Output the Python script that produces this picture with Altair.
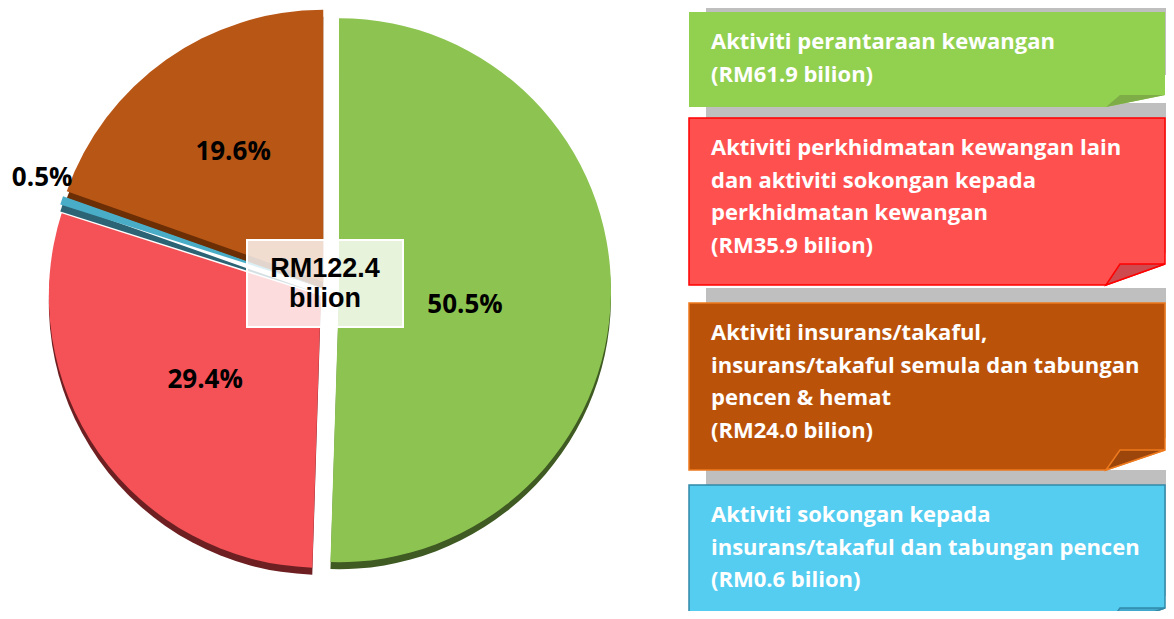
import altair as alt
import pandas as pd

# ------------------------------------------------------------------ data
categories = [
    "Aktiviti perantaraan kewangan",
    "Aktiviti perkhidmatan kewangan lain dan aktiviti sokongan kepada perkhidmatan kewangan",
    "Aktiviti insurans/takaful, insurans/takaful semula dan tabungan pencen & hemat",
    "Aktiviti sokongan kepada insurans/takaful dan tabungan pencen",
]
values_rm = [61.9, 35.9, 24.0, 0.6]          # RM bilion
shares_pct = [50.5, 29.4, 19.6, 0.5]         # % of total
pie_order = [0, 1, 3, 2]                     # clockwise order from 12 o'clock
legend_lines = [
    ["Aktiviti perantaraan kewangan"],
    ["Aktiviti perkhidmatan kewangan lain", "dan aktiviti sokongan kepada", "perkhidmatan kewangan"],
    ["Aktiviti insurans/takaful,", "insurans/takaful semula dan tabungan", "pencen & hemat"],
    ["Aktiviti sokongan kepada", "insurans/takaful dan tabungan pencen"],
]
unit = "bilion"

# ------------------------------------------------------------------ style
OFF = 8
W, H = 1158, 603
def X(px):
    return px - OFF
def Y(py):
    return py - OFF

PIE_TOP = ["#8DC451", "#F45257", "#B85616", "#4AADC8"]
PIE_SIDE = ["#3F5A22", "#6E1F22", "#6B2E05", "#2C6475"]
CX, CY = 321, 282      # pie centre (chart px)
R = 272
EXPL = 10
DEPTH = 7
LABEL_R = [127, 143, 158, 298]      # per category label distance (px)
LABEL_DA = [6.0, -0.7, 0.5, 2.9]    # per category label angle tweak (deg)

BOX_FILL = ["#92D050", "#FF5050", "#BB520A", "#55CDF1"]
BOX_STROKE = ["#92D050", "#FF0000", "#EE7A1E", "#3289A8"]
BOX_SW = [0, 1.5, 1.5, 1.5]
FOLD_FILL = ["#7EAD47", "#CF4A4E", "#9C460B", "#42A8CE"]
BOX_TOP = [12, 118, 303, 485]
BOX_BOT = [107, 285, 470, 628]
CUT_H = [12, 21, 20, 20]
BOX_L, BOX_R = 689, 1165
CUT_X, FOLD_X = 1106, 1120

one = pd.DataFrame({"a": [0]})

# ------------------------------------------------------------------ pie
pie_df = pd.DataFrame({
    "cat": categories,
    "idx": list(range(len(categories))),
    "share": shares_pct,
    "ord": pie_order,
})
total_share = sum(shares_pct)
lr_expr = "[" + ",".join(str(v) for v in LABEL_R) + "][datum.idx]"
la_expr = "[" + ",".join(str(v) for v in LABEL_DA) + "][datum.idx] * PI / 180"

pie_base = (
    alt.Chart(pie_df)
    .transform_joinaggregate(total="sum(share)")
    .transform_window(cum="sum(share)", sort=[alt.SortField("ord", order="ascending")], frame=[None, 0])
    .transform_calculate(
        v0="datum.cum - datum.share",
        mid="(datum.cum - datum.share / 2) / datum.total * 2 * PI",
        cx=f"{CX} + {EXPL} * sin(datum.mid)",
        cy=f"{CY} - {EXPL} * cos(datum.mid)",
        cyd=f"datum.cy + {DEPTH}",
        la=f"datum.mid + {la_expr}",
        lx=f"datum.cx + {lr_expr} * sin(datum.la)",
        ly=f"datum.cy - {lr_expr} * cos(datum.la)",
        lab="format(datum.share, '.1f') + '%'",
    )
)

theta = alt.Theta("v0:Q", scale=alt.Scale(domain=[0, total_share]))
theta2 = alt.Theta2("cum:Q")

pie_side = pie_base.mark_arc(radius=R, stroke=None).encode(
    theta=theta, theta2=theta2,
    x=alt.X("cx:Q", scale=None), y=alt.Y("cyd:Q", scale=None),
    color=alt.Color("cat:N", scale=alt.Scale(domain=categories, range=PIE_SIDE), legend=None),
)
pie_top = pie_base.mark_arc(radius=R, stroke=None).encode(
    theta=theta, theta2=theta2,
    x=alt.X("cx:Q", scale=None), y=alt.Y("cy:Q", scale=None),
    fill=alt.Fill("cat:N", scale=alt.Scale(domain=categories, range=PIE_TOP), legend=None),
)
pie_labels = pie_base.mark_text(
    font="Open Sans", fontWeight="bold", fontSize=26, color="black",
    align="center", baseline="middle",
).encode(
    x=alt.X("lx:Q", scale=None), y=alt.Y("ly:Q", scale=None), text="lab:N",
)

# centre box
total_rm = sum(values_rm)
centre_box = alt.Chart(one).mark_rect(
    fill="white", fillOpacity=0.8, stroke="white", strokeWidth=2
).encode(x=alt.value(X(247)), x2=alt.value(X(403)), y=alt.value(Y(240)), y2=alt.value(Y(327)))
centre_text = alt.Chart(pd.DataFrame({"t": [f"RM{total_rm:.1f}\n{unit}"]})).mark_text(
    font="Liberation Sans", fontWeight="bold", fontSize=27, color="black",
    align="center", baseline="alphabetic", lineBreak="\n", lineHeight=30,
).encode(x=alt.value(X(325)), y=alt.value(Y(277)), text="t:N")

# ------------------------------------------------------------------ legend boxes
def poly_point(pts, fill, stroke, sw):
    xs = [p[0] for p in pts]
    ys = [p[1] for p in pts]
    cx = (min(xs) + max(xs)) / 2
    cy = (min(ys) + max(ys)) / 2
    k = 100.0
    path = "M " + " L ".join(f"{(x - cx) / k:.4f} {(y - cy) / k:.4f}" for x, y in pts) + " Z"
    return alt.Chart(one).mark_point(
        shape=path, size=(2 * k) ** 2, filled=True, fill=fill, fillOpacity=1,
        stroke=stroke, strokeWidth=sw, opacity=1,
    ).encode(x=alt.value(X(cx)), y=alt.value(Y(cy)))

legend_layers = []
for i in range(len(categories)):
    top, bot = BOX_TOP[i], BOX_BOT[i]
    legend_layers.append(
        alt.Chart(one).mark_rect(fill="#BFBFBF").encode(
            x=alt.value(X(706)), x2=alt.value(W),
            y=alt.value(max(0, Y(top - 15))), y2=alt.value(Y(bot - 32)),
        )
    )
for i in range(len(categories)):
    top, bot = BOX_TOP[i], BOX_BOT[i]
    ch = CUT_H[i]
    box = [(BOX_L, top), (BOX_R, top), (BOX_R, bot - ch), (CUT_X, bot), (BOX_L, bot)]
    legend_layers.append(poly_point(box, BOX_FILL[i], BOX_STROKE[i], BOX_SW[i]))
    fold = [(CUT_X, bot), (FOLD_X, bot - ch), (BOX_R, bot - ch)]
    legend_layers.append(poly_point(fold, FOLD_FILL[i], BOX_STROKE[i], BOX_SW[i]))
    txt = "\n".join(legend_lines[i] + [f"(RM{values_rm[i]:.1f} {unit})"])
    legend_layers.append(
        alt.Chart(pd.DataFrame({"t": [txt]})).mark_text(
            font="Open Sans", fontWeight="bold", fontSize=22, color="white",
            align="left", baseline="alphabetic", lineBreak="\n", lineHeight=32.5,
        ).encode(x=alt.value(X(711)), y=alt.value(Y(top + 37)), text="t:N")
    )

chart = alt.layer(
    pie_side, pie_top, pie_labels, centre_box, centre_text, *legend_layers
).properties(
    width=W, height=H, padding=0,
    autosize=alt.AutoSizeParams(type="none"),
).configure_view(stroke=None)

chart.save("out.html", embed_options={"renderer": "svg", "actions": False})
